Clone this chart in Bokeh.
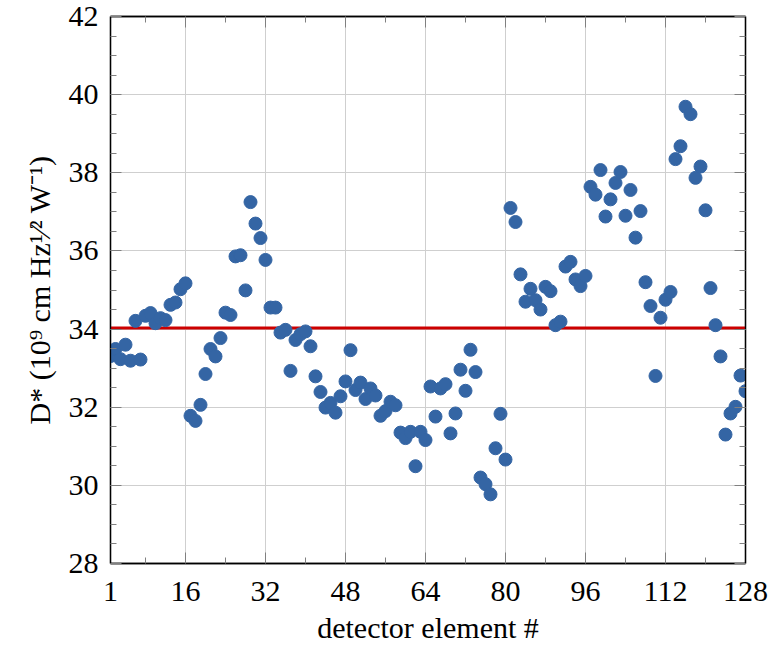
from bokeh.plotting import figure
from bokeh.models import (FixedTicker, LinearAxis, Range1d, ColumnDataSource,
                          CustomLabelingPolicy)
from bokeh.embed import file_html
from bokeh.resources import INLINE

# ---------------- data ----------------
detector = list(range(1, 129))
dstar = [
    33.31, 33.49, 33.23, 33.60, 33.19, 34.21, 33.22, 34.34, 34.41, 34.15,
    34.28, 34.23, 34.62, 34.68, 35.02, 35.17, 31.78, 31.65, 32.06, 32.85,
    33.49, 33.30, 33.77, 34.42, 34.36, 35.86, 35.89, 34.99, 37.25, 36.70,
    36.33, 35.77, 34.55, 34.55, 33.91, 33.98, 32.93, 33.72, 33.87, 33.94,
    33.56, 32.79, 32.39, 31.99, 32.11, 31.86, 32.28, 32.66, 33.46, 32.44,
    32.63, 32.21, 32.48, 32.30, 31.78, 31.90, 32.14, 32.05, 31.35, 31.21,
    31.37, 30.49, 31.37, 31.16, 32.53, 31.76, 32.48, 32.59, 31.33, 31.84,
    32.96, 32.42, 33.47, 32.90, 30.20, 30.03, 29.77, 30.95, 31.83, 30.66,
    37.10, 36.74, 35.40, 34.70, 35.03, 34.74, 34.50, 35.08, 34.97, 34.10,
    34.19, 35.60, 35.72, 35.27, 35.10, 35.36, 37.64, 37.44, 38.07, 36.88,
    37.32, 37.74, 38.02, 36.90, 37.56, 36.34, 37.02, 35.20, 34.59, 32.80,
    34.29, 34.75, 34.95, 38.35, 38.68, 39.69, 39.50, 37.87, 38.16, 37.04,
    35.05, 34.10, 33.30, 31.30, 31.84, 32.01, 32.81, 32.41,
]
mean_value = 34.03

x_ticks = [1, 16, 32, 48, 64, 80, 96, 112, 128]
x_minor = [8, 24, 40, 56, 72, 88, 104, 120]
y_ticks = [28, 30, 32, 34, 36, 38, 40, 42]
y_minor = [v / 2 for v in range(56, 85)]

x_label = "detector element #"
y_label = "D* (10\u2079 cm Hz\u00b9\u2044\u00b2 W\u207b\u00b9)"

# ---------------- figure ----------------
FONT = "Liberation Serif"
p = figure(
    width=770, height=648, output_backend="svg", toolbar_location=None,
    x_range=Range1d(detector[0], detector[-1]), y_range=Range1d(28, 42),
    min_border_left=110, min_border_right=25, min_border_top=16, min_border_bottom=85,
    background_fill_color="white", border_fill_color="white",
)
p.outline_line_color = "black"
p.outline_line_width = 1.3

src = ColumnDataSource(dict(x=detector, y=dstar))
p.line(x=[detector[0], detector[-1]], y=[mean_value, mean_value],
       line_color="#cc0000", line_width=3)
p.scatter("x", "y", source=src, size=13, fill_color="#3465a4", line_color="#3465a4")

xt = FixedTicker(ticks=x_ticks, minor_ticks=x_minor)
yt = FixedTicker(ticks=y_ticks, minor_ticks=y_minor)


def style_axis(ax, labels=True):
    ax.axis_line_color = "black"
    ax.axis_line_width = 1.3
    ax.major_tick_in = 11
    ax.major_tick_out = 0
    ax.minor_tick_in = 6
    ax.minor_tick_out = 0
    ax.major_tick_line_color = "#808080"
    ax.minor_tick_line_color = "#808080"
    ax.major_label_text_font = FONT
    ax.major_label_text_font_size = "30px"
    ax.major_label_text_color = "black"
    ax.axis_label_text_font = FONT
    ax.axis_label_text_font_size = "30px"
    ax.axis_label_text_font_style = "normal"
    ax.axis_label_text_color = "black"
    if not labels:
        ax.major_label_text_font_size = "0px"
        ax.major_label_standoff = 0
        ax.major_label_policy = CustomLabelingPolicy(code="return []")


xa = p.xaxis[0]
xa.ticker = xt
style_axis(xa)
xa.axis_label = x_label
xa.major_label_standoff = 18
xa.axis_label_standoff = 7

ya = p.yaxis[0]
ya.ticker = yt
style_axis(ya)
ya.axis_label = y_label
ya.major_label_standoff = 12
ya.axis_label_standoff = 10

top = LinearAxis(ticker=xt)
style_axis(top, labels=False)
p.add_layout(top, "above")
right = LinearAxis(ticker=yt)
style_axis(right, labels=False)
p.add_layout(right, "right")

p.xgrid.ticker = xt
p.ygrid.ticker = yt
p.xgrid.grid_line_color = "#cfcfcf"
p.ygrid.grid_line_color = "#cfcfcf"
p.xgrid.grid_line_width = 1
p.ygrid.grid_line_width = 1

open("out.html", "w").write(file_html(p, INLINE))
